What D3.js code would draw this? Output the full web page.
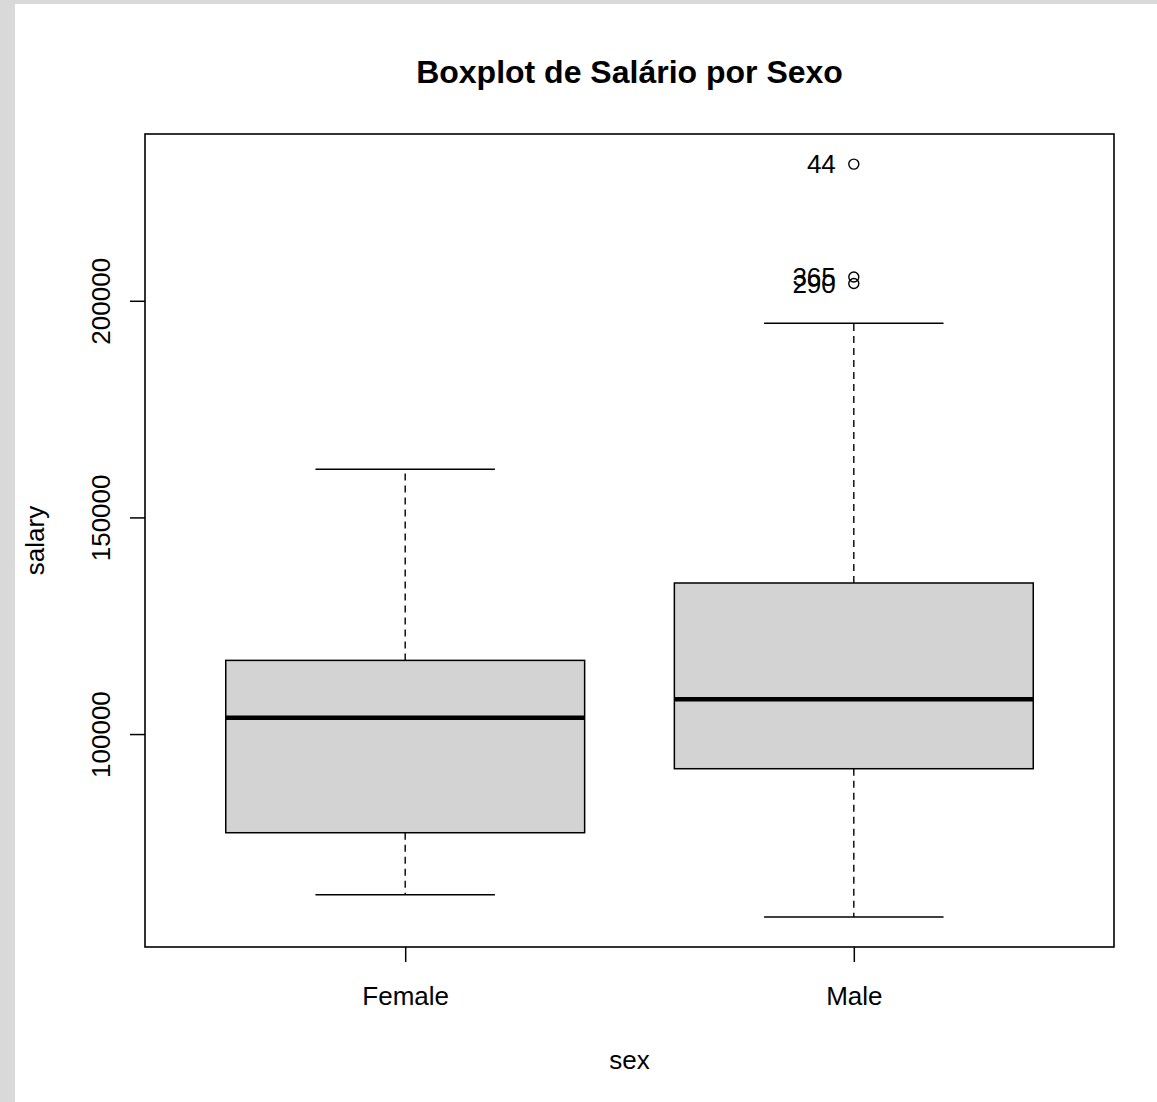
<!DOCTYPE html>
<html>
<head>
<meta charset="utf-8">
<script src="https://cdn.jsdelivr.net/npm/d3@7"></script>
<style>
  html, body { margin: 0; padding: 0; background: #d9d9d9; }
  svg { display: block; }
  text { font-family: "Liberation Sans", Arial, sans-serif; fill: #000; }
</style>
</head>
<body>
<script>
// Salary summary per sex (boxplot five-number stats)
const categories   = ["Female", "Male"];
const whiskerLow   = [62884, 57800];
const quartile1    = [77225, 92000];
const medians      = [103750, 108043];
const quartile3    = [117003, 134864];
const whiskerHigh  = [161101, 194800];
// Outlying observations: group index, salary, row label
const outlierGroup = [1, 1, 1];
const outlierValue = [231545, 205500, 204000];
const outlierLabel = ["44", "365", "290"];
const yTicks       = [100000, 150000, 200000];

const W = 1157, H = 1102;
const plot = { left: 145, right: 1114, top: 134, bottom: 947 };

const svg = d3.select("body").append("svg")
  .attr("width", W).attr("height", H);

// white canvas, leaving a grey strip along the left and top edges
svg.append("rect").attr("x", 15).attr("y", 4)
  .attr("width", W - 15).attr("height", H - 4).attr("fill", "#fff");

const allVals = whiskerLow.concat(whiskerHigh, outlierValue);
const lo = d3.min(allVals), hi = d3.max(allVals), pad = (hi - lo) * 0.04;
const y = d3.scaleLinear().domain([lo - pad, hi + pad]).range([plot.bottom, plot.top]);
const xPos = d3.scaleLinear().domain([0.42, 2.58]).range([plot.left, plot.right]);
const x = d3.scaleOrdinal().domain(categories).range(categories.map((_, i) => xPos(i + 1)));
const boxW = xPos(1.4) - xPos(1);   // half box width (0.8 total)
const capW = boxW / 2;

const g = svg.append("g");

categories.forEach((c, i) => {
  const cx = x(c);
  // dashed whiskers
  g.append("line").attr("x1", cx).attr("x2", cx)
    .attr("y1", y(quartile3[i])).attr("y2", y(whiskerHigh[i]))
    .attr("stroke", "#000").attr("stroke-width", 1.4).attr("stroke-dasharray", "7,5");
  g.append("line").attr("x1", cx).attr("x2", cx)
    .attr("y1", y(quartile1[i])).attr("y2", y(whiskerLow[i]))
    .attr("stroke", "#000").attr("stroke-width", 1.4).attr("stroke-dasharray", "7,5");
  // staples
  [whiskerHigh[i], whiskerLow[i]].forEach(v => {
    g.append("line").attr("x1", cx - capW).attr("x2", cx + capW)
      .attr("y1", y(v)).attr("y2", y(v))
      .attr("stroke", "#000").attr("stroke-width", 1.5);
  });
  // box
  g.append("rect").attr("x", cx - boxW).attr("width", 2 * boxW)
    .attr("y", y(quartile3[i])).attr("height", y(quartile1[i]) - y(quartile3[i]))
    .attr("fill", "#d3d3d3").attr("stroke", "#000").attr("stroke-width", 1.5);
  // median
  g.append("line").attr("x1", cx - boxW).attr("x2", cx + boxW)
    .attr("y1", y(medians[i])).attr("y2", y(medians[i]))
    .attr("stroke", "#000").attr("stroke-width", 4.5);
});

// outliers with row labels
outlierValue.forEach((v, k) => {
  const cx = xPos(outlierGroup[k] + 1);
  g.append("circle").attr("cx", cx).attr("cy", y(v)).attr("r", 5)
    .attr("fill", "none").attr("stroke", "#000").attr("stroke-width", 1.4);
  g.append("text").attr("x", cx - 18).attr("y", y(v))
    .attr("dy", "0.36em").attr("text-anchor", "end")
    .attr("font-size", 26).attr("fill", "#222").text(outlierLabel[k]);
});

// frame
svg.append("rect").attr("x", plot.left).attr("y", plot.top)
  .attr("width", plot.right - plot.left).attr("height", plot.bottom - plot.top)
  .attr("fill", "none").attr("stroke", "#000").attr("stroke-width", 1.6);

// y axis
const yAxis = svg.append("g").attr("transform", `translate(${plot.left},0)`)
  .call(d3.axisLeft(y).tickValues(yTicks).tickSize(15).tickFormat(d3.format("d")));
yAxis.select(".domain").remove();
yAxis.selectAll(".tick line").attr("stroke", "#000").attr("stroke-width", 1.5);
yAxis.selectAll(".tick text")
  .attr("font-size", 26).attr("font-family", "Liberation Sans, Arial, sans-serif")
  .attr("fill", "#222")
  .attr("x", null).attr("dy", null)
  .attr("text-anchor", "middle")
  .attr("transform", "translate(-35,0) rotate(-90)");

// x axis
const xAxis = svg.append("g").attr("transform", `translate(0,${plot.bottom})`)
  .call(d3.axisBottom(x).tickSize(15));
xAxis.select(".domain").remove();
xAxis.selectAll(".tick line").attr("stroke", "#000").attr("stroke-width", 1.5);
xAxis.selectAll(".tick text")
  .attr("font-size", 26).attr("font-family", "Liberation Sans, Arial, sans-serif")
  .attr("fill", "#222").attr("y", 58).attr("dy", null);

// titles
svg.append("text").attr("x", (plot.left + plot.right) / 2).attr("y", 83)
  .attr("text-anchor", "middle").attr("font-size", 32).attr("font-weight", "bold")
  .text("Boxplot de Salário por Sexo");
svg.append("text").attr("x", (plot.left + plot.right) / 2).attr("y", 1069)
  .attr("text-anchor", "middle").attr("font-size", 26).attr("fill", "#222").text("sex");
svg.append("text")
  .attr("transform", `translate(44,${(plot.top + plot.bottom) / 2}) rotate(-90)`)
  .attr("text-anchor", "middle").attr("font-size", 26).attr("fill", "#222").text("salary");
</script>
</body>
</html>
